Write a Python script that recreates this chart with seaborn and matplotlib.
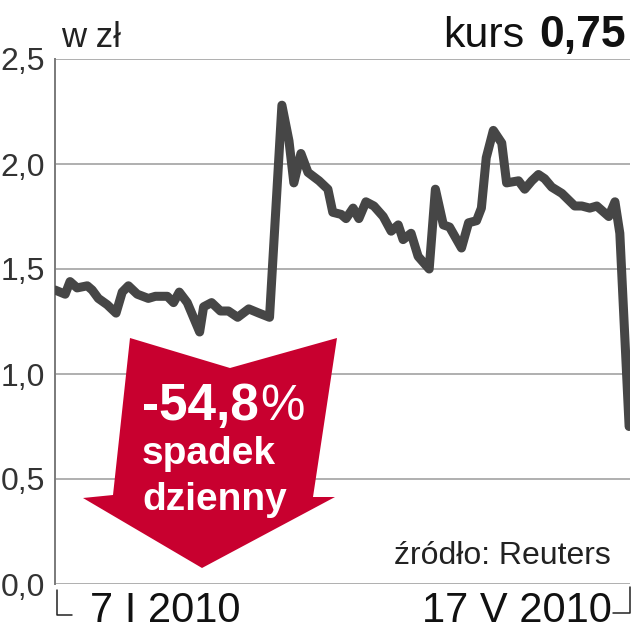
import numpy as np
import pandas as pd
import matplotlib.pyplot as plt
from matplotlib.patches import Polygon
from matplotlib.lines import Line2D
from matplotlib import transforms
import seaborn as sns

# kurs akcji, 7 I 2010 - 17 V 2010 (dni od startu)
day_offset = [0, 2.3, 3.4, 5.0, 7.3, 8.4, 9.8, 11.8, 13.8, 15.2, 16.6, 18.6, 21.1,
              22.7, 25.4, 26.8, 28.1, 29.9, 31.3, 32.7, 33.6, 35.4, 37.4, 39.2,
              41.3, 43.8, 46.1, 48.5, 51.3, 52.9, 54.0, 55.6, 57.2, 59.7, 61.7,
              62.8, 64.7, 65.8, 67.4, 68.7, 70.3, 72.1, 74.2, 76.0, 77.6, 78.7,
              80.5, 82.1, 84.6, 86.0, 87.8, 89.2, 91.9, 93.5, 95.3, 96.4, 97.5,
              99.1, 101.0, 102.1, 104.8, 106.2, 107.8, 109.3, 110.7, 112.3,
              114.6, 117.5, 119.1, 120.9, 122.5, 125.2, 126.6, 127.7, 129.8]
price = [1.40, 1.38, 1.44, 1.41, 1.42, 1.40, 1.36, 1.33, 1.29, 1.39, 1.42, 1.38,
         1.36, 1.37, 1.37, 1.34, 1.39, 1.34, 1.27, 1.20, 1.32, 1.34, 1.30, 1.30,
         1.27, 1.31, 1.29, 1.27, 2.28, 2.11, 1.91, 2.05, 1.96, 1.92, 1.88, 1.77,
         1.76, 1.74, 1.79, 1.74, 1.82, 1.80, 1.75, 1.68, 1.71, 1.64, 1.67, 1.56,
         1.50, 1.88, 1.71, 1.70, 1.60, 1.72, 1.73, 1.79, 2.03, 2.16, 2.10, 1.91,
         1.92, 1.88, 1.92, 1.95, 1.93, 1.89, 1.86, 1.80, 1.80, 1.79, 1.80, 1.75,
         1.82, 1.67, 0.75]

start_date = pd.Timestamp('2010-01-07')
end_date = pd.Timestamp('2010-05-17')
date_labels = ['7 I 2010', '17 V 2010']
y_ticks = [0.0, 0.5, 1.0, 1.5, 2.0, 2.5]
y_labels = ['0,0', '0,5', '1,0', '1,5', '2,0', '2,5']

dates = start_date + pd.to_timedelta(day_offset, unit='D')
df = pd.DataFrame({'data': dates, 'kurs': price})

sns.set_theme(style='white')
plt.rcParams['font.family'] = ['Liberation Sans', 'DejaVu Sans']

W, H = 633, 640
fig = plt.figure(figsize=(W / 100, H / 100), dpi=100)
ax = fig.add_axes([55 / W, 56 / H, 575 / W, 525 / H])


def px(x, y):
    # piksele obrazka -> ulamek figury
    return x / W, (H - y) / H


sns.lineplot(data=df, x='data', y='kurs', ax=ax, color='#464646', linewidth=6.5,
             solid_joinstyle='round', solid_capstyle='round', zorder=4)

ax.set_xlim(start_date, end_date)
ax.set_ylim(0, 2.5)
ax.set_yticks(y_ticks)
ax.set_yticklabels(y_labels, fontsize=23, color='#333333')
ax.grid(axis='y', color='#9a9a9a', linewidth=1.1)
ax.set_axisbelow(True)
ax.tick_params(axis='y', length=0, pad=7)
ax.tick_params(axis='x', length=0, pad=5)
ax.set_xticks([start_date, end_date])
ax.set_xticklabels(date_labels, fontsize=30, color='#111111')
xl = ax.get_xticklabels()
xl[0].set_ha('left')
xl[0].set_transform(xl[0].get_transform() + transforms.ScaledTranslation(35 / 100, 0, fig.dpi_scale_trans))
xl[1].set_ha('right')
xl[1].set_transform(xl[1].get_transform() + transforms.ScaledTranslation(-18 / 100, 0, fig.dpi_scale_trans))
ax.set_xlabel('')
ax.set_ylabel('')

for side in ['top', 'right', 'bottom']:
    ax.spines[side].set_visible(False)
ax.spines['left'].set_color('#7a7a7a')
ax.spines['left'].set_linewidth(1.4)

# strzalka spadku
arrow_px = [(130, 338), (230, 368), (337, 338), (313, 497), (335, 497),
            (202, 568), (83, 498), (113, 495)]
arrow = Polygon([px(*p) for p in arrow_px], closed=True, transform=fig.transFigure,
                facecolor='#c8002f', edgecolor='none', zorder=3)
ax.add_patch(arrow)

fig.text(*px(142, 420), '-54,8', color='white', fontsize=37, fontweight='bold',
         ha='left', va='baseline', zorder=5)
fig.text(*px(260, 420), '%', color='white', fontsize=36, ha='left', va='baseline', zorder=5)
fig.text(*px(142, 464), 'spadek', color='white', fontsize=28, fontweight='bold',
         ha='left', va='baseline', zorder=5)
fig.text(*px(142, 510), 'dzienny', color='white', fontsize=28, fontweight='bold',
         ha='left', va='baseline', zorder=5)

# naglowki
fig.text(*px(61, 47), 'w zł', fontsize=25, color='#222222', ha='left', va='baseline')
fig.text(*px(524, 47), 'kurs', fontsize=31, color='#111111', ha='right', va='baseline')
fig.text(*px(626, 47), '0,75', fontsize=32, fontweight='bold', color='#111111',
         ha='right', va='baseline')
fig.text(*px(611, 564), 'źródło: Reuters', fontsize=23, color='#222222',
         ha='right', va='baseline')

# znaczniki zakresu dat
for pts in ([(57, 590), (57, 615), (72, 615)], [(613, 613), (630, 613), (630, 587)]):
    xs, ys = zip(*[px(*p) for p in pts])
    fig.add_artist(Line2D(xs, ys, color='#222222', linewidth=1.1, transform=fig.transFigure))

fig.savefig('out.png', dpi=100)
